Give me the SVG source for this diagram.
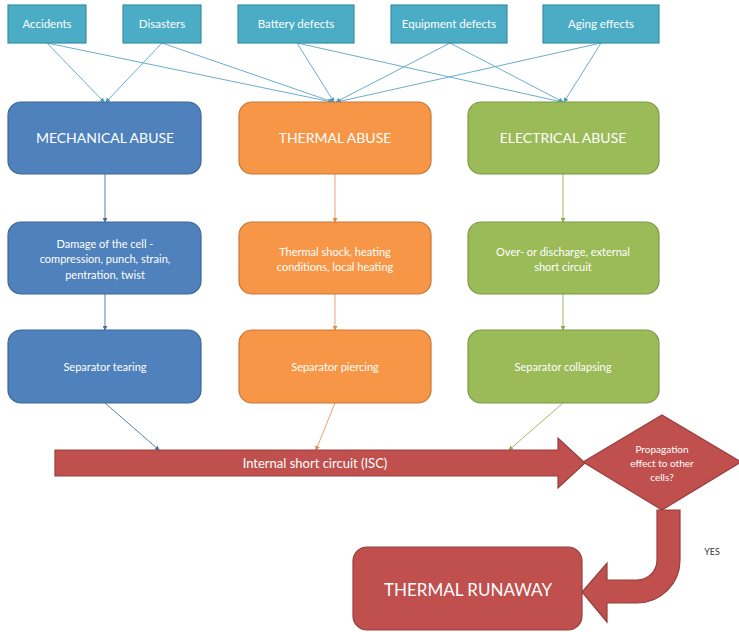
<svg xmlns="http://www.w3.org/2000/svg" width="739" height="632" viewBox="0 0 739 632">
  <defs>
    <style>
      text { font-family: Lato, "Liberation Sans", Arial, sans-serif; fill: #ffffff; text-anchor: middle; }
      .cause rect { fill: #4bacc6; stroke: #3a8ea6; stroke-width: 1.2; }
      .cause text { font-size: 11.5px; }
      .mech { fill: #4f81bd; stroke: #3d6797; stroke-width: 1.2; }
      .therm { fill: #f79646; stroke: #c7773a; stroke-width: 1.2; }
      .elec { fill: #9bbb59; stroke: #7c9a45; stroke-width: 1.2; }
      .red { fill: #c0504d; stroke: #963e3c; stroke-width: 1.2; }
      .title { font-size: 14px; }
      .body { font-size: 11px; }
      .c-top { stroke: #6aaed0; stroke-width: 1; fill: none; marker-end: url(#ah-blue); }
      .c-mech { stroke: #5b7ea8; stroke-width: 1; fill: none; marker-end: url(#ah-mech); }
      .c-therm { stroke: #eba26c; stroke-width: 1; fill: none; marker-end: url(#ah-therm); }
      .c-elec { stroke: #9fbb6a; stroke-width: 1; fill: none; marker-end: url(#ah-elec); }
    </style>
    <marker id="ah-blue" viewBox="0 0 6 6" refX="5" refY="3" markerWidth="5" markerHeight="5" orient="auto">
      <path d="M0,0 L6,3 L0,6 Z" fill="#4a9cc4"/>
    </marker>
    <marker id="ah-mech" viewBox="0 0 6 6" refX="5" refY="3" markerWidth="5" markerHeight="5" orient="auto">
      <path d="M0,0 L6,3 L0,6 Z" fill="#4a6f9a"/>
    </marker>
    <marker id="ah-therm" viewBox="0 0 6 6" refX="5" refY="3" markerWidth="5" markerHeight="5" orient="auto">
      <path d="M0,0 L6,3 L0,6 Z" fill="#e08a4a"/>
    </marker>
    <marker id="ah-elec" viewBox="0 0 6 6" refX="5" refY="3" markerWidth="5" markerHeight="5" orient="auto">
      <path d="M0,0 L6,3 L0,6 Z" fill="#88a84e"/>
    </marker>
  </defs>

  <rect width="739" height="632" fill="#ffffff"/>

  <!-- connectors -->
  <g id="connectors">
    <!-- causes to abuse types -->
    <path class="c-top" d="M47,43 L104,102"/>
    <path class="c-top" d="M47,43 L332,102"/>
    <path class="c-top" d="M162,43 L106,102"/>
    <path class="c-top" d="M162,43 L333,102"/>
    <path class="c-top" d="M297,43 L334,102"/>
    <path class="c-top" d="M297,43 L562,102"/>
    <path class="c-top" d="M450,43 L336,102"/>
    <path class="c-top" d="M450,43 L563,102"/>
    <path class="c-top" d="M601,43 L337,102"/>
    <path class="c-top" d="M601,43 L564,102"/>
    <!-- abuse type to effect -->
    <path class="c-mech" d="M105,174 L105,222"/>
    <path class="c-therm" d="M335,174 L335,222"/>
    <path class="c-elec" d="M563,174 L563,222"/>
    <!-- effect to separator failure -->
    <path class="c-mech" d="M105,294 L105,330"/>
    <path class="c-therm" d="M335,294 L335,330"/>
    <path class="c-elec" d="M563,294 L563,330"/>
    <!-- separator failure to internal short circuit -->
    <path class="c-mech" d="M105,403 L159,450"/>
    <path class="c-therm" d="M335,403 L316,450"/>
    <path class="c-elec" d="M563,403 L509,450"/>
  </g>

  <!-- causes -->
  <g id="accidents" class="cause">
    <rect x="8" y="5" width="78" height="38"/>
    <text x="47" y="28">Accidents</text>
  </g>
  <g id="disasters" class="cause">
    <rect x="123" y="5" width="78" height="38"/>
    <text x="162" y="28">Disasters</text>
  </g>
  <g id="battery-defects" class="cause">
    <rect x="238" y="5" width="116" height="38"/>
    <text x="296" y="28">Battery defects</text>
  </g>
  <g id="equipment-defects" class="cause">
    <rect x="391" y="5" width="116" height="38"/>
    <text x="449" y="28">Equipment defects</text>
  </g>
  <g id="aging-effects" class="cause">
    <rect x="543" y="5" width="116" height="38"/>
    <text x="601" y="28">Aging effects</text>
  </g>

  <!-- abuse types -->
  <g id="mechanical-abuse">
    <rect class="mech" x="8" y="102" width="193" height="72" rx="13"/>
    <text class="title" x="105" y="143">MECHANICAL ABUSE</text>
  </g>
  <g id="thermal-abuse">
    <rect class="therm" x="239" y="102" width="192" height="72" rx="13"/>
    <text class="title" x="335" y="143">THERMAL ABUSE</text>
  </g>
  <g id="electrical-abuse">
    <rect class="elec" x="468" y="102" width="191" height="72" rx="13"/>
    <text class="title" x="563" y="143">ELECTRICAL ABUSE</text>
  </g>

  <!-- effects -->
  <g id="mechanical-damage">
    <rect class="mech" x="8" y="222" width="193" height="72" rx="13"/>
    <text class="body" x="105" y="248">Damage of the cell -</text>
    <text class="body" x="105" y="263">compression, punch, strain,</text>
    <text class="body" x="105" y="279">pentration, twist</text>
  </g>
  <g id="thermal-shock">
    <rect class="therm" x="239" y="222" width="192" height="72" rx="13"/>
    <text class="body" x="335" y="256">Thermal shock, heating</text>
    <text class="body" x="335" y="271">conditions, local heating</text>
  </g>
  <g id="electrical-discharge">
    <rect class="elec" x="468" y="222" width="191" height="72" rx="13"/>
    <text class="body" x="563" y="256">Over- or discharge, external</text>
    <text class="body" x="563" y="271">short circuit</text>
  </g>

  <!-- separator failures -->
  <g id="separator-tearing">
    <rect class="mech" x="8" y="330" width="193" height="73" rx="13"/>
    <text class="body" x="105" y="371">Separator tearing</text>
  </g>
  <g id="separator-piercing">
    <rect class="therm" x="239" y="330" width="192" height="73" rx="13"/>
    <text class="body" x="335" y="371">Separator piercing</text>
  </g>
  <g id="separator-collapsing">
    <rect class="elec" x="468" y="330" width="191" height="73" rx="13"/>
    <text class="body" x="563" y="371">Separator collapsing</text>
  </g>

  <!-- internal short circuit arrow -->
  <g id="internal-short-circuit">
    <path class="red" d="M55,450 H558 V438 L585,463 L558,488 V476 H55 Z"/>
    <text x="315" y="468" style="font-size:13px">Internal short circuit (ISC)</text>
  </g>

  <!-- propagation decision -->
  <g id="propagation">
    <path class="red" d="M662,415 L741,462 L662,510 L583,462 Z"/>
    <text x="662" y="453" style="font-size:10px">Propagation</text>
    <text x="662" y="467" style="font-size:10px">effect to other</text>
    <text x="662" y="481" style="font-size:10px">cells?</text>
  </g>

  <!-- bent arrow towards thermal runaway -->
  <g id="yes-arrow">
    <path class="red" d="M657,510 H680 V560 A43,43 0 0 1 637,603 H607 V622 L582,592 L607,563 V580 H637 A20,20 0 0 0 657,560 Z"/>
    <text x="712" y="555" style="font-size:9px;fill:#333333">YES</text>
  </g>

  <!-- outcome -->
  <g id="thermal-runaway">
    <rect class="red" x="353" y="547" width="229" height="83" rx="14"/>
    <text x="468" y="596" style="font-size:17px">THERMAL RUNAWAY</text>
  </g>
</svg>
